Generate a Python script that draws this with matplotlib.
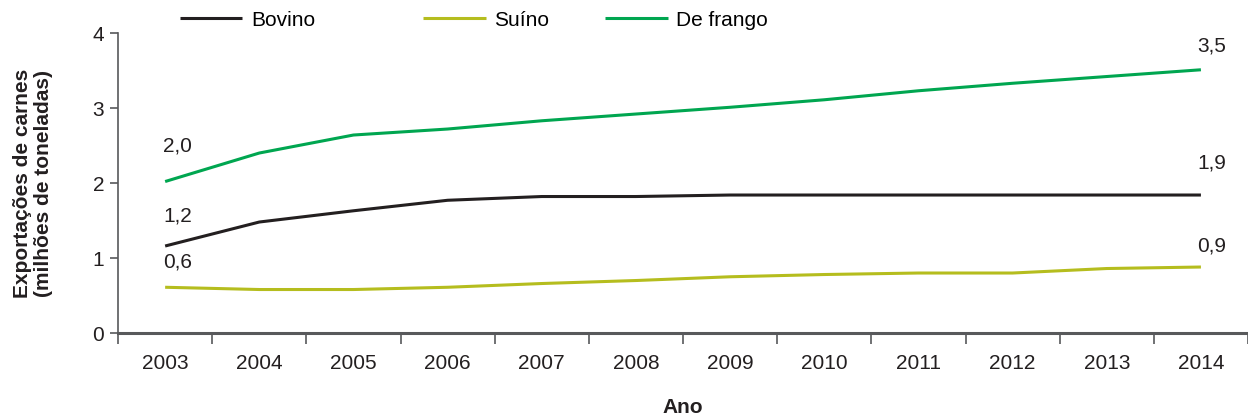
import numpy as np
import matplotlib
matplotlib.use('Agg')
import matplotlib.pyplot as plt

plt.rcParams['font.family'] = ['Liberation Sans', 'DejaVu Sans']

# data (milhoes de toneladas)
anos = ['2003', '2004', '2005', '2006', '2007', '2008',
        '2009', '2010', '2011', '2012', '2013', '2014']
bovino = [1.16, 1.48, 1.63, 1.77, 1.82, 1.82, 1.84, 1.84, 1.84, 1.84, 1.84, 1.84]
suino = [0.61, 0.58, 0.58, 0.61, 0.66, 0.70, 0.75, 0.78, 0.80, 0.80, 0.86, 0.88]
frango = [2.02, 2.40, 2.64, 2.72, 2.83, 2.92, 3.01, 3.11, 3.23, 3.33, 3.42, 3.51]
rotulos_ini = ['1,2', '0,6', '2,0']
rotulos_fim = ['1,9', '0,9', '3,5']

cores = ['#231f20', '#b5bd1e', '#00a650']
nomes = ['Bovino', 'Suíno', 'De frango']
eixo_cor = '#58595b'
txt_cor = '#231f20'
fs = 15

# label offsets above the first / last point, in pixels
dy_ini = [30, 25, 36]
dy_fim = [32, 21, 24]
# legend x positions, figure pixels
leg_x = [180, 423, 605]

fig = plt.figure(figsize=(12.48, 4.18), dpi=100)
ax = fig.add_axes([0.0946, 0.2033, 0.9054, 0.7177])

x = np.arange(len(anos))
series = [bovino, suino, frango]
handles = []
for i, (s, c, n) in enumerate(zip(series, cores, nomes)):
    h, = ax.plot(x, s, color=c, lw=2.2, label=n, solid_capstyle='butt')
    handles.append(h)
    ax.annotate(rotulos_ini[i], (x[0], s[0]), xytext=(9, dy_ini[i] * 0.72),
                textcoords='offset points', ha='center', va='center',
                fontsize=fs, color=txt_cor)
    ax.annotate(rotulos_fim[i], (x[-1], s[-1]), xytext=(8, dy_fim[i] * 0.72),
                textcoords='offset points', ha='center', va='center',
                fontsize=fs, color=txt_cor)

ax.set_xlim(-0.5, len(anos) - 0.5)
ax.set_ylim(0, 4)
ax.set_yticks([0, 1, 2, 3, 4])
ax.set_xticks(x)
ax.set_xticklabels(anos)
ax.set_xticks(np.arange(-0.5, len(anos), 1.0), minor=True)
ax.tick_params(axis='x', which='major', length=0, pad=15, labelsize=fs, colors=txt_cor)
ax.tick_params(axis='x', which='minor', length=8, width=1.2, color=eixo_cor)
ax.tick_params(axis='y', length=6, width=1.2, color=eixo_cor, labelsize=fs,
               labelcolor=txt_cor, pad=4)

for side in ['top', 'right']:
    ax.spines[side].set_visible(False)
ax.spines['left'].set_color(eixo_cor)
ax.spines['left'].set_linewidth(1.2)
ax.spines['bottom'].set_color(eixo_cor)
ax.spines['bottom'].set_linewidth(2.2)

ax.set_ylabel('Exportações de carnes\n(milhões de toneladas)', fontsize=fs,
              fontweight='bold', color=txt_cor, linespacing=1.1)
ax.yaxis.set_label_coords(-0.058, 0.5)
ax.set_xlabel('Ano', fontsize=fs, fontweight='bold', color=txt_cor)
ax.xaxis.set_label_coords(0.5, -0.215)

for h, lx in zip(handles, leg_x):
    leg = fig.legend(handles=[h], loc='center left',
                     bbox_to_anchor=(lx / 1248, 1 - 20 / 418), frameon=False,
                     fontsize=fs, handlelength=3.0, handletextpad=0.4,
                     borderaxespad=0, borderpad=0)

fig.savefig('out.png', dpi=100)
